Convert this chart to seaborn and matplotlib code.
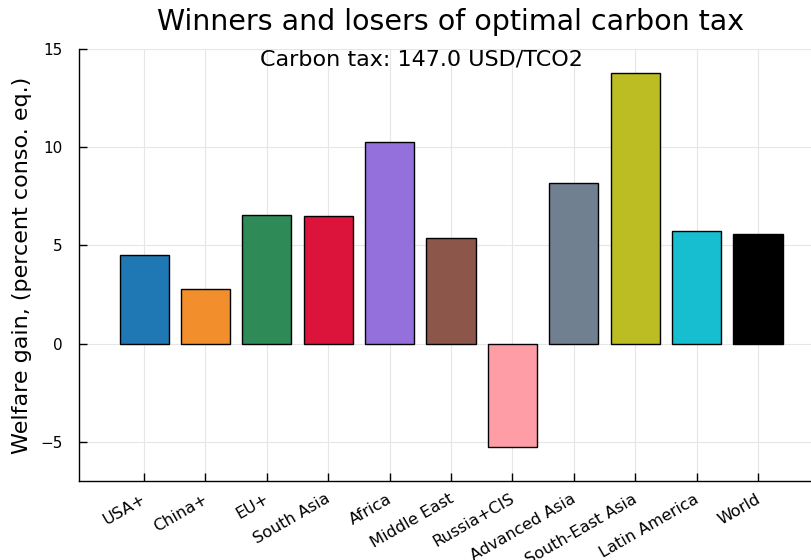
import numpy as np
import pandas as pd
import matplotlib
matplotlib.use("Agg")
import matplotlib.pyplot as plt
import matplotlib.transforms as mtransforms
import seaborn as sns

# Data
regions = ["USA+", "China+", "EU+", "South Asia", "Africa", "Middle East",
           "Russia+CIS", "Advanced Asia", "South-East Asia", "Latin America", "World"]
welfare_gain = [4.52, 2.80, 6.56, 6.51, 10.27, 5.37, -5.29, 8.20, 13.76, 5.73, 5.57]
bar_colors = ["#1f77b4", "#f28e2b", "#2e8b57", "#dc143c", "#9370db", "#8c564b",
              "#ff9da7", "#708090", "#bcbd22", "#17becf", "#000000"]
carbon_tax = 147.0

sns.set_style("white")
plt.rcParams['font.family'] = ['DejaVu Sans']
plt.rcParams['text.color'] = 'black'
plt.rcParams['axes.labelcolor'] = 'black'
plt.rcParams['xtick.color'] = 'black'
plt.rcParams['ytick.color'] = 'black'

df = pd.DataFrame({"region": regions, "gain": welfare_gain})

fig = plt.figure(figsize=(8.12, 5.6), dpi=100)
ax = fig.add_axes([0.0973, 0.141, 0.9027, 0.7715])

sns.barplot(data=df, x="region", y="gain", hue="region", palette=bar_colors,
            saturation=1, width=0.8, edgecolor="black", linewidth=1.0,
            legend=False, ax=ax, zorder=3)

ax.set_xlim(-1.06, 10.88)
ax.set_ylim(-7, 15)
ax.set_yticks([-5, 0, 5, 10, 15])
ax.set_yticklabels(["\u22125", "0", "5", "10", "15"])
ax.grid(True, color="#e6e6e6", linewidth=0.8, zorder=0)
ax.set_axisbelow(True)

for side in ["top", "right"]:
    ax.spines[side].set_visible(False)
for side in ["left", "bottom"]:
    ax.spines[side].set_color("black")
    ax.spines[side].set_linewidth(1.0)

ax.tick_params(axis="both", direction="in", length=6, width=1, color="black",
               labelsize=11, left=True, bottom=True)
ax.tick_params(axis="y", pad=12)
ax.tick_params(axis="x", pad=12, labelsize=11.6)
# rotated labels end just right of their tick, as in the reference
shift = mtransforms.ScaledTranslation(1 / 100, 0, fig.dpi_scale_trans)
for lbl in ax.get_xticklabels():
    lbl.set_rotation(30)
    lbl.set_ha("right")
    lbl.set_va("center")
    lbl.set_rotation_mode("anchor")
    lbl.set_transform(lbl.get_transform() + shift)

ax.set_xlabel("")
ax.set_ylabel("Welfare gain, (percent conso. eq.)", fontsize=16, labelpad=6)
fig.suptitle("Winners and losers of optimal carbon tax", fontsize=20.5, x=0.555, y=0.96,
             va="center")
ax.text(0.467, 0.975, f"Carbon tax: {carbon_tax} USD/TCO2", transform=ax.transAxes,
        ha="center", va="center", fontsize=16)

fig.savefig("out.png", dpi=100)
